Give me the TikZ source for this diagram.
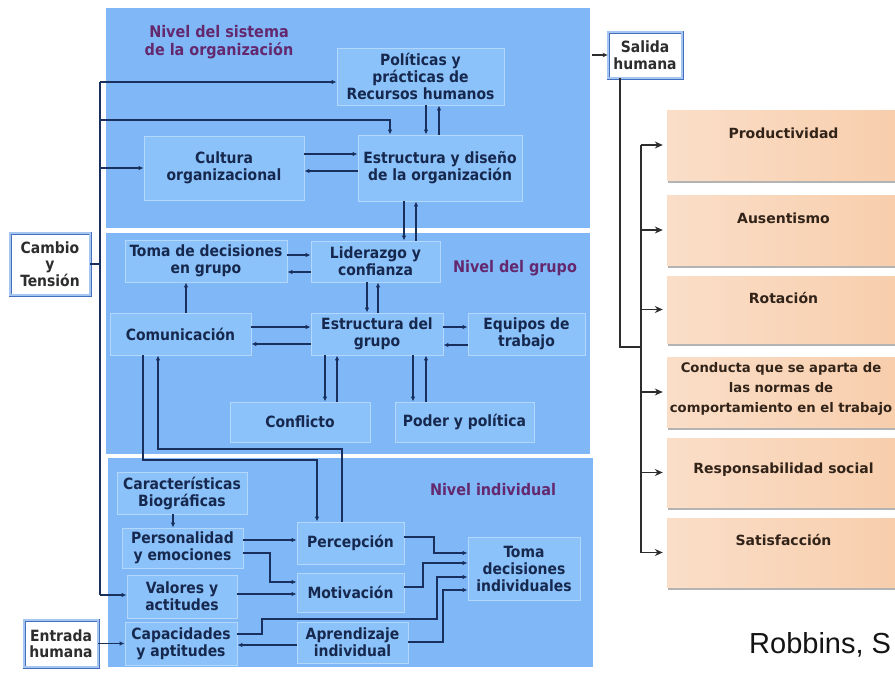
\documentclass[tikz,border=0pt]{standalone}
\usepackage{fontspec}
\setmainfont{DejaVu Sans}
\newfontfamily\dvc{DejaVu Sans Condensed}[BoldFont={DejaVu Sans Condensed Bold}]
\newfontfamily\dvs{DejaVu Sans}
\newfontfamily\lib{Liberation Sans}
\usetikzlibrary{arrows.meta,calc,shadows}
\definecolor{panelblue}{RGB}{128,184,247}
\definecolor{boxblue}{RGB}{140,194,250}
\definecolor{boxline}{RGB}{180,215,252}
\definecolor{navy}{RGB}{22,40,78}
\definecolor{arrowc}{RGB}{25,48,95}
\definecolor{purp}{RGB}{100,40,110}
\definecolor{wbline}{RGB}{70,110,190}
\definecolor{wbinner}{RGB}{165,198,240}
\definecolor{wtext}{RGB}{45,45,45}
\definecolor{orL}{RGB}{250,222,200}
\definecolor{orR}{RGB}{248,206,172}
\definecolor{otextc}{RGB}{50,35,25}
\definecolor{gline}{RGB}{45,45,45}
\definecolor{srcc}{RGB}{20,20,20}
\begin{document}
\begin{tikzpicture}[x=1pt,y=-1pt,
  ibox/.style={rectangle,fill=boxblue,draw=boxline,line width=0.8pt,text=navy,
    font=\dvc\bfseries\fontsize{15.5}{17}\selectfont,align=center,inner sep=0pt},
  wbox/.style={rectangle,fill=white,draw=wbline,double=wbinner,double distance=1.2pt,
    line width=0.9pt,text=wtext,font=\dvc\bfseries\fontsize{15.5}{16.5}\selectfont,
    align=center,inner sep=0pt},
  ttl/.style={text=purp,font=\dvc\bfseries\fontsize{16}{18}\selectfont,align=center},
  obox/.style={rectangle,left color=orL,right color=orR,draw=none,minimum width=233pt,
    inner sep=0pt,drop shadow={shadow xshift=0.5pt,shadow yshift=-2.5pt,fill=black!50,opacity=0.6}},
  otxt/.style={text=otextc,font=\dvs\bfseries\fontsize{14}{20}\selectfont,align=center},
  ln/.style={draw=arrowc,line width=1.5pt},
  arr/.style={ln,-{Latex[length=5pt,width=4.5pt]}},
  gln/.style={draw=gline,line width=1.2pt},
  garr/.style={gln,-{Stealth[length=8pt,width=7pt]},shorten >=4pt},
]
\useasboundingbox (0,0) rectangle (895,675);
\clip (0,0) rectangle (895,675);
% panels
\fill[panelblue] (106,8) rectangle (590,228);
\fill[panelblue] (106,233) rectangle (590,454);
\fill[panelblue] (108,458) rectangle (593,667);
% titles
\node[ttl] (tsys) at (219,42) {Nivel del sistema\\de la organización};
\node[ttl] (tgrp) at (515,268) {Nivel del grupo};
\node[ttl] (tind) at (493,490) {Nivel individual};
% boxes top
\node[ibox,minimum width=167pt,minimum height=57pt] (pol) at (420.5,76.5) {Políticas y\\prácticas de\\Recursos humanos};
\node[ibox,minimum width=164pt,minimum height=66pt] (est) at (440,168) {Estructura y diseño\\de la organización};
\node[ibox,minimum width=160pt,minimum height=64pt] (cul) at (224,168) {Cultura\\organizacional};
% group
\node[ibox,minimum width=162pt,minimum height=42pt] (tdg) at (206,261) {Toma de decisiones\\en grupo};
\node[ibox,minimum width=129pt,minimum height=41pt] (lid) at (375.5,261.5) {Liderazgo y\\confianza};
\node[ibox,minimum width=132pt,minimum height=42pt] (esg) at (377,334) {Estructura del\\grupo};
\node[ibox,minimum width=117pt,minimum height=42pt] (equ) at (526.5,334) {Equipos de\\trabajo};
\node[ibox,minimum width=141pt,minimum height=42pt] (com) at (180.5,334) {Comunicación};
\node[ibox,minimum width=140pt,minimum height=40pt] (con) at (300,422) {Conflicto};
\node[ibox,minimum width=139pt,minimum height=40pt] (pod) at (464.5,422) {Poder y política};
% individual
\node[ibox,minimum width=130pt,minimum height=42pt] (car) at (182,493) {Características\\Biográficas};
\node[ibox,minimum width=121pt,minimum height=40pt] (per) at (182.5,548) {Personalidad\\y emociones};
\node[ibox,minimum width=110pt,minimum height=43pt] (val) at (182,596.5) {Valores y\\actitudes};
\node[ibox,minimum width=112pt,minimum height=43pt] (cap) at (181,643.5) {Capacidades\\y aptitudes};
\node[ibox,minimum width=107pt,minimum height=42pt] (perc) at (350.5,543) {Percepción};
\node[ibox,minimum width=107pt,minimum height=39pt] (mot) at (350.5,592.5) {Motivación};
\node[ibox,minimum width=111pt,minimum height=41pt] (apr) at (352.5,642.5) {Aprendizaje\\individual};
\node[ibox,minimum width=112pt,minimum height=63pt] (tdi) at (524,568.5) {Toma\\decisiones\\individuales};
% white boxes
\node[wbox,minimum width=80pt,minimum height=62pt] (cam) at (50,264) {Cambio\\y\\Tensión};
\node[wbox,minimum width=74pt,minimum height=47pt] (ent) at (61,643.5) {Entrada\\humana};
\node[wbox,minimum width=74pt,minimum height=46pt] (sal) at (645,55) {Salida\\humana};
% helper coordinates
\foreach \v in {143,158,173,186,262,270,317,325,337,342,367,378,390,404,413,416,423,426,434,437,439,443,620,641}
  {\coordinate (x\v) at (\v,0);}
\foreach \v in {154,171,255,272,327,344,345,347,449,460,537,540,553,563,577,582,587,590,594,619,634,642,645}
  {\coordinate (h\v) at (0,\v);}
\coordinate (b1) at (100,82);
\coordinate (b2) at (100,120);
\coordinate (b3) at (100,168);
\coordinate (b4) at (100,595);
\coordinate (sin) at (592,55);
% left bus
\draw[ln] (b1) -- (b4);
\draw[ln] (cam.east) -- (cam.east -| b1);
\draw[arr] (b1) -- (b1 -| pol.west);
\draw[arr] (b2) -- (b2 -| x390) -- (x390 |- est.north);
\draw[arr] (b3) -- (b3 -| cul.west);
\draw[arr] (b4) -- (b4 -| val.west);
\draw[arr] (ent.east) -- (ent.east -| cap.west);
% top
\draw[arr] (cul.east |- h154) -- (est.west |- h154);
\draw[arr] (est.west |- h171) -- (cul.east |- h171);
\draw[arr] (pol.south -| x426) -- (est.north -| x426);
\draw[arr] (est.north -| x439) -- (pol.south -| x439);
\draw[arr] (est.south -| x404) -- (lid.north -| x404);
\draw[arr] (lid.north -| x416) -- (est.south -| x416);
% group
\draw[arr] (tdg.east |- h255) -- (lid.west |- h255);
\draw[arr] (lid.west |- h272) -- (tdg.east |- h272);
\draw[arr] (lid.south -| x367) -- (esg.north -| x367);
\draw[arr] (esg.north -| x378) -- (lid.south -| x378);
\draw[arr] (com.east |- h327) -- (esg.west |- h327);
\draw[arr] (esg.west |- h344) -- (com.east |- h344);
\draw[arr] (esg.east |- h327) -- (equ.west |- h327);
\draw[arr] (equ.west |- h345) -- (esg.east |- h345);
\draw[arr] (com.north -| x186) -- (tdg.south -| x186);
\draw[arr] (esg.south -| x325) -- (con.north -| x325);
\draw[arr] (con.north -| x337) -- (esg.south -| x337);
\draw[arr] (esg.south -| x413) -- (pod.north -| x413);
\draw[arr] (pod.north -| x426) -- (esg.south -| x426);
% group <-> individual
\draw[arr] (com.south -| x143) -- (x143 |- h460) -- (x317 |- h460) -- (perc.north -| x317);
\draw[arr] (perc.north -| x342) -- (x342 |- h449) -- (x158 |- h449) -- (com.south -| x158);
% individual
\draw[arr] (car.south -| x173) -- (per.north -| x173);
\draw[arr] (per.east |- h540) -- (perc.west |- h540);
\draw[arr] (per.east |- h553) -- (x270 |- h553) -- (x270 |- h582) -- (mot.west |- h582);
\draw[arr] (val.east |- h594) -- (mot.west |- h594);
\draw[arr] (perc.east |- h537) -- (x434 |- h537) -- (x434 |- h553) -- (tdi.west |- h553);
\draw[arr] (mot.east |- h587) -- (x423 |- h587) -- (x423 |- h563) -- (tdi.west |- h563);
\draw[arr] (cap.east |- h634) -- (x262 |- h634) -- (x262 |- h619) -- (x437 |- h619) -- (x437 |- h577) -- (tdi.west |- h577);
\draw[arr] (apr.east |- h642) -- (x443 |- h642) -- (x443 |- h590) -- (tdi.west |- h590);
\draw[arr] (apr.west |- h645) -- (cap.east |- h645);
% outputs
\node[obox,minimum height=70pt] (o1) at (783.5,145) {};
\node[obox,minimum height=70pt] (o2) at (783.5,230) {};
\node[obox,minimum height=67pt] (o3) at (783.5,309.5) {};
\node[obox,minimum height=70pt] (o4) at (783.5,392) {};
\node[obox,minimum height=69pt] (o5) at (783.5,472.5) {};
\node[obox,minimum height=69pt] (o6) at (783.5,552.5) {};
\node[otxt] (t1) at (783.5,133) {Productividad};
\node[otxt] (t2) at (783.5,218) {Ausentismo};
\node[otxt] (t3) at (783.5,298) {Rotación};
\node[otxt,font=\dvs\bfseries\fontsize{13.2}{20}\selectfont] (t4) at (781,389) {Conducta que se aparta de\\las normas de\\comportamiento en el trabajo};
\node[otxt] (t5) at (783.5,470) {Responsabilidad social};
\node[otxt] (t6) at (783.5,540) {Satisfacción};
\draw[gln,-{Stealth[length=5pt,width=4.5pt]}] (sin) -- (sal.west);
\draw[gln] (sal.south -| x620) -- (x620 |- h347) -- (x641 |- h347);
\draw[gln] (x641 |- o1.west) -- (x641 |- o6.west);
\foreach \bx in {o1,o2,o3,o4,o5,o6}
  {\draw[garr] (x641 |- \bx.west) -- (\bx.west);}
\node[anchor=base west,font=\lib\fontsize{29}{31}\selectfont,text=srcc,inner sep=0pt] (src) at (749,653) {Robbins, S};
\end{tikzpicture}
\end{document}
